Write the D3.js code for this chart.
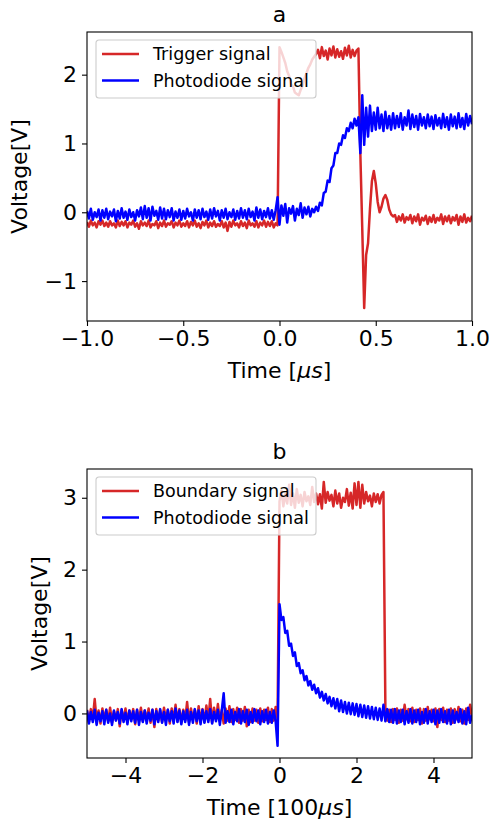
<!DOCTYPE html>
<html>
<head>
<meta charset="utf-8">
<script src="https://cdn.jsdelivr.net/npm/d3@7"></script>
<style>
  html, body { margin: 0; padding: 0; background: #fff; }
  svg { display: block; font-family: "DejaVu Sans", sans-serif; }
</style>
</head>
<body>
<svg id="chart" width="492" height="827"></svg>
<script>
// panel a: sample grid -1..1 us, step 0.01
const aStart = -1, aStep = 0.01;
const aTrigger = [
  -0.14,-0.21,-0.12,-0.19,-0.15,-0.22,-0.13,-0.18,-0.12,-0.20,
  -0.15,-0.21,-0.13,-0.19,-0.16,-0.22,-0.12,-0.20,-0.14,-0.19,
  -0.13,-0.22,-0.15,-0.18,-0.12,-0.21,-0.16,-0.24,-0.13,-0.19,
  -0.15,-0.20,-0.12,-0.22,-0.17,-0.19,-0.13,-0.23,-0.15,-0.20,
  -0.12,-0.21,-0.16,-0.18,-0.13,-0.22,-0.15,-0.19,-0.12,-0.21,
  -0.16,-0.20,-0.13,-0.22,-0.14,-0.19,-0.12,-0.21,-0.16,-0.23,
  -0.14,-0.19,-0.12,-0.22,-0.15,-0.20,-0.13,-0.21,-0.17,-0.20,
  -0.13,-0.22,-0.15,-0.27,-0.14,-0.21,-0.12,-0.19,-0.16,-0.22,
  -0.13,-0.20,-0.15,-0.23,-0.12,-0.19,-0.16,-0.21,-0.13,-0.22,
  -0.15,-0.19,-0.12,-0.21,-0.14,-0.20,-0.13,-0.22,-0.16,-0.19,
  2.40,2.33,2.25,2.17,2.05,1.98,1.86,1.83,1.74,1.72,
  1.70,1.78,1.84,1.95,2.02,2.10,2.15,2.22,2.26,2.30,
  2.36,2.24,2.40,2.27,2.35,2.22,2.38,2.28,2.41,2.25,
  2.37,2.26,2.34,2.23,2.39,2.28,2.42,2.25,2.36,2.27,
  2.35,2.38,0.85,-0.25,-1.39,-0.62,-0.45,0.05,0.45,0.60,
  0.42,0.15,0.00,0.08,0.20,0.25,0.18,0.04,-0.03,-0.06,
  -0.04,-0.14,-0.06,-0.12,-0.03,-0.15,-0.07,-0.11,-0.04,-0.16,
  -0.06,-0.13,-0.03,-0.18,-0.08,-0.12,-0.05,-0.17,-0.07,-0.14,
  -0.04,-0.15,-0.08,-0.12,-0.03,-0.17,-0.06,-0.13,-0.05,-0.16,
  -0.07,-0.12,-0.04,-0.18,-0.06,-0.14,-0.03,-0.15,-0.08,-0.13,
  -0.05
];
const aPhoto = [
  0.02,-0.09,0.05,-0.11,0.00,-0.07,0.04,-0.12,0.03,-0.08,
  0.05,-0.10,0.01,-0.06,0.04,-0.13,0.02,-0.09,0.06,-0.08,
  0.01,-0.11,0.04,-0.07,0.00,-0.12,0.03,-0.06,0.07,-0.10,
  0.09,-0.08,0.06,-0.12,0.08,-0.05,0.02,-0.11,0.07,-0.09,
  0.05,-0.10,0.03,-0.07,0.06,-0.12,0.01,-0.08,0.04,-0.11,
  0.02,-0.09,0.05,-0.06,0.00,-0.12,0.04,-0.08,0.03,-0.10,
  0.05,-0.07,0.01,-0.11,0.04,-0.09,0.06,-0.06,0.02,-0.12,
  0.03,-0.08,0.05,-0.10,0.00,-0.07,0.04,-0.11,0.02,-0.09,
  0.06,-0.08,0.03,-0.10,0.05,-0.07,0.01,-0.12,0.07,-0.08,
  0.04,-0.10,0.02,-0.07,0.06,-0.09,0.03,-0.11,0.03,0.22,
  -0.18,0.10,-0.05,0.12,-0.15,0.06,-0.02,0.09,-0.12,0.05,
  -0.04,0.13,-0.08,0.07,-0.03,0.08,-0.06,0.05,0.00,0.08,
  0.02,0.14,0.10,0.28,0.30,0.46,0.44,0.64,0.68,0.86,
  0.86,1.00,0.98,1.12,1.08,1.22,1.18,1.30,1.22,1.36,
  1.26,1.38,0.86,1.70,0.98,1.52,1.10,1.55,1.18,1.45,
  1.20,1.52,1.22,1.42,1.18,1.46,1.22,1.40,1.20,1.44,
  1.22,1.40,1.24,1.44,1.20,1.38,1.26,1.48,1.21,1.42,
  1.24,1.40,1.20,1.43,1.26,1.38,1.22,1.42,1.25,1.39,
  1.21,1.41,1.26,1.37,1.22,1.43,1.24,1.38,1.20,1.42,
  1.25,1.39,1.22,1.44,1.24,1.37,1.21,1.43,1.26,1.40,
  1.28
];

// panel b: sample grid -5..5 (100 us), step 0.05
const bStart = -5, bStep = 0.05;
const bBoundary = [
  0.05,-0.12,0.06,-0.08,0.20,-0.10,0.04,-0.14,0.07,-0.09,
  0.05,-0.11,0.08,-0.13,0.03,-0.09,0.06,-0.18,0.05,-0.10,
  0.07,-0.12,0.04,-0.08,0.06,-0.15,0.05,-0.10,0.08,-0.11,
  0.04,-0.09,0.07,-0.13,0.05,-0.19,0.06,-0.10,0.04,-0.12,
  0.08,-0.10,0.05,-0.14,0.07,-0.09,0.12,-0.11,0.06,-0.13,
  0.05,-0.10,0.16,-0.12,0.07,-0.09,0.05,-0.14,0.10,-0.11,
  0.06,-0.12,0.11,-0.10,0.20,-0.13,0.08,-0.09,0.13,-0.11,
  0.05,-0.14,0.07,-0.10,0.10,-0.12,0.06,-0.09,0.08,-0.13,
  0.06,-0.10,0.09,-0.18,0.05,-0.12,0.07,-0.10,0.05,-0.13,
  0.07,-0.11,0.05,-0.09,0.08,-0.12,0.06,-0.10,0.09,-0.08,
  2.95,3.10,2.88,3.05,2.92,3.18,2.90,3.06,2.86,3.12,
  2.93,3.04,2.88,3.08,2.95,3.02,2.90,3.15,2.94,3.06,
  2.91,3.05,2.85,3.22,2.93,3.08,2.96,3.04,2.88,3.10,
  2.92,3.06,2.86,3.00,2.94,3.12,2.89,3.07,2.85,3.20,
  2.90,3.22,2.86,3.18,2.92,3.08,2.95,3.03,2.88,3.06,
  2.94,3.05,2.92,3.04,3.08,0.08,-0.10,0.05,-0.12,0.06,
  -0.09,0.07,-0.13,0.05,-0.10,0.12,-0.08,0.06,-0.11,0.08,
  -0.12,0.05,-0.09,0.07,-0.14,0.06,-0.10,0.09,-0.08,0.05,
  -0.11,0.07,-0.19,0.06,-0.09,0.08,-0.12,0.05,-0.10,0.07,
  -0.13,0.06,-0.08,0.09,-0.11,0.05,-0.14,0.07,-0.09,0.12,
  -0.05
];
const bPhoto = [
  0.04,-0.14,0.02,-0.12,0.05,-0.16,0.01,-0.11,0.03,-0.15,
  0.05,-0.13,0.00,-0.16,0.04,-0.10,0.02,-0.14,0.06,-0.12,
  0.01,-0.15,0.04,-0.11,0.03,-0.13,0.05,-0.16,0.02,-0.12,
  0.04,-0.14,0.01,-0.10,0.05,-0.15,0.03,-0.12,0.06,-0.13,
  0.02,-0.16,0.05,-0.11,0.03,-0.14,0.07,-0.12,0.04,-0.15,
  0.03,-0.12,0.05,-0.16,0.02,-0.13,0.06,-0.11,0.04,-0.15,
  0.05,-0.13,0.03,-0.12,0.06,-0.14,0.02,-0.11,0.05,-0.16,
  0.04,0.28,-0.13,0.03,-0.12,0.05,-0.15,0.02,-0.11,0.06,
  -0.14,0.03,-0.12,0.05,-0.16,0.02,-0.13,0.06,-0.11,0.04,
  -0.15,0.03,-0.12,0.05,-0.14,0.02,-0.13,0.04,-0.11,-0.45,
  1.52,1.30,1.34,1.12,1.15,0.94,0.97,0.80,0.85,0.66,
  0.70,0.56,0.60,0.46,0.52,0.39,0.45,0.33,0.40,0.28,
  0.35,0.22,0.30,0.18,0.27,0.14,0.23,0.10,0.21,0.07,
  0.20,0.03,0.18,0.02,0.16,0.00,0.15,-0.01,0.14,-0.02,
  0.13,-0.04,0.12,-0.05,0.11,-0.06,0.10,-0.07,0.09,-0.08,
  0.08,-0.09,0.07,-0.10,0.12,-0.11,0.06,-0.12,0.05,-0.13,
  0.06,-0.14,0.04,-0.12,0.05,-0.15,0.03,-0.13,0.06,-0.14,
  0.04,-0.12,0.05,-0.15,0.02,-0.13,0.06,-0.14,0.03,-0.12,
  0.05,-0.15,0.04,-0.13,0.06,-0.12,0.03,-0.14,0.05,-0.15,
  0.04,-0.13,0.02,-0.12,0.06,-0.14,0.03,-0.15,0.08,-0.13,
  -0.02
];

const aTicksX = [-1, -0.5, 0, 0.5, 1];
const aTicksY = [-1, 0, 1, 2];
const bTicksX = [-4, -2, 0, 2, 4];
const bTicksY = [0, 1, 2, 3];

const RED = '#d62728';
const BLUE = '#0000ff';

const svg = d3.select('#chart');

const drawPanel = ({ id, top, xDomain, yDomain, xTicks, yTicks, xFmt, title, xLabel, labelX, series }) => {
  const left = 87, right = 472, height = 289;
  const bottom = top + height;
  const x = d3.scaleLinear().domain(xDomain).range([left, right]);
  const y = d3.scaleLinear().domain(yDomain).range([bottom, top]);
  const g = svg.append('g');

  g.append('clipPath').attr('id', 'clip-' + id)
    .append('rect').attr('x', left).attr('y', top).attr('width', right - left).attr('height', height);

  const line = d3.line().x(d => x(d[0])).y(d => y(d[1]));
  const plot = g.append('g').attr('clip-path', `url(#clip-${id})`);
  series.forEach(s => {
    const pts = s.values.map((v, i) => [s.start + i * s.step, v]);
    plot.append('path').datum(pts)
      .attr('d', line)
      .attr('fill', 'none')
      .attr('stroke', s.color)
      .attr('stroke-width', 2.5)
      .attr('stroke-linejoin', 'round');
  });

  // axes
  const xAxis = d3.axisBottom(x).tickValues(xTicks).tickFormat(xFmt).tickSize(5).tickPadding(4);
  const yAxis = d3.axisLeft(y).tickValues(yTicks).tickFormat(d3.format('d')).tickSize(5).tickPadding(5);
  const gx = g.append('g').attr('transform', `translate(0,${bottom})`).call(xAxis);
  const gy = g.append('g').attr('transform', `translate(${left},0)`).call(yAxis);
  [gx, gy].forEach(a => {
    a.select('.domain').remove();
    a.selectAll('line').attr('stroke', '#000').attr('stroke-width', 1.1);
    a.selectAll('text').attr('font-size', 22).attr('fill', '#000')
      .attr('font-family', '"DejaVu Sans", sans-serif');
  });

  g.append('rect').attr('x', left).attr('y', top).attr('width', right - left).attr('height', height)
    .attr('fill', 'none').attr('stroke', '#000').attr('stroke-width', 1.1);

  g.append('text').attr('x', (left + right) / 2).attr('y', top - 10)
    .attr('text-anchor', 'middle').attr('font-size', 22).text(title);

  const xl = g.append('text').attr('x', (left + right) / 2).attr('y', bottom + 57)
    .attr('text-anchor', 'middle').attr('font-size', 22);
  xLabel(xl);

  g.append('text')
    .attr('transform', `translate(${labelX},${(top + bottom) / 2}) rotate(-90)`)
    .attr('text-anchor', 'middle').attr('font-size', 22).text('Voltage[V]');

  // legend
  const lg = g.append('g').attr('transform', `translate(96,${top + 8})`);
  lg.append('rect').attr('width', 220).attr('height', 58).attr('rx', 3)
    .attr('fill', '#fff').attr('fill-opacity', 0.8)
    .attr('stroke', '#cccccc').attr('stroke-width', 1.1);
  series.forEach((s, i) => {
    const ly = 14 + i * 26.5;
    lg.append('line').attr('x1', 6).attr('x2', 43).attr('y1', ly).attr('y2', ly)
      .attr('stroke', s.color).attr('stroke-width', 2.5);
    lg.append('text').attr('x', 57).attr('y', ly + 6).attr('font-size', 17.5).text(s.name);
  });
};

drawPanel({
  id: 'a', top: 32, xDomain: [-1, 1], yDomain: [-1.58, 2.62],
  xTicks: aTicksX, yTicks: aTicksY, xFmt: d3.format('.1f'), title: 'a', labelX: 27,
  xLabel: t => {
    t.append('tspan').text('Time [');
    t.append('tspan').attr('font-style', 'italic').text('μs');
    t.append('tspan').text(']');
  },
  series: [
    { name: 'Trigger signal', color: RED, values: aTrigger, start: aStart, step: aStep },
    { name: 'Photodiode signal', color: BLUE, values: aPhoto, start: aStart, step: aStep }
  ]
});

drawPanel({
  id: 'b', top: 469, xDomain: [-5, 5], yDomain: [-0.62, 3.40],
  xTicks: bTicksX, yTicks: bTicksY, xFmt: d3.format('d'), title: 'b', labelX: 47,
  xLabel: t => {
    t.append('tspan').text('Time [100');
    t.append('tspan').attr('font-style', 'italic').text('μs');
    t.append('tspan').text(']');
  },
  series: [
    { name: 'Boundary signal', color: RED, values: bBoundary, start: bStart, step: bStep },
    { name: 'Photodiode signal', color: BLUE, values: bPhoto, start: bStart, step: bStep }
  ]
});
</script>
</body>
</html>
